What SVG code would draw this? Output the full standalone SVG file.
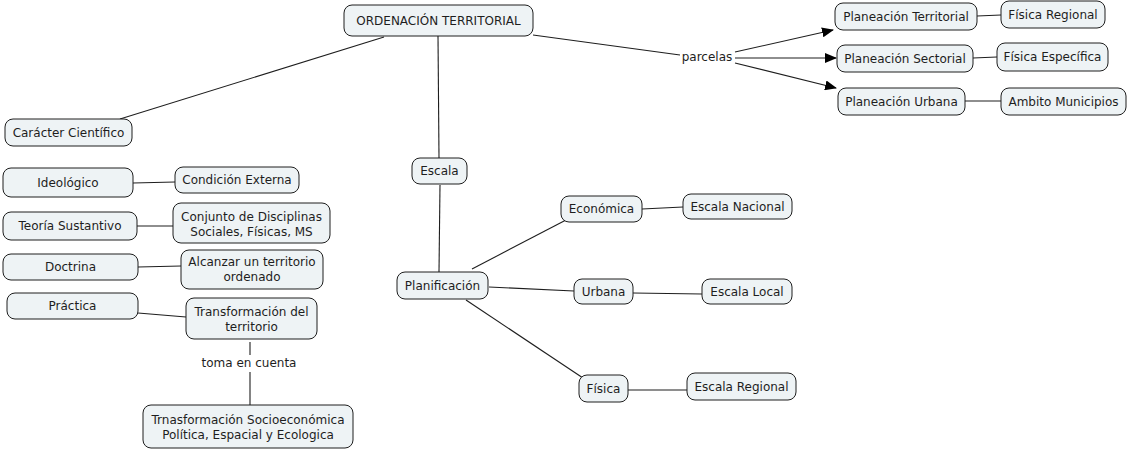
<svg xmlns="http://www.w3.org/2000/svg" width="1128" height="451" viewBox="0 0 1128 451">
<style>
.n rect{fill:#eef3f5;stroke:#1e1e1e;stroke-width:1}
text{font-family:"DejaVu Sans",Verdana,sans-serif;font-size:12px;fill:#1e1e1e;text-anchor:middle}
.c line{stroke:#1e1e1e;stroke-width:1.1}
</style>
<defs>
<marker id="ah" markerWidth="12" markerHeight="10" refX="11" refY="5" orient="auto" markerUnits="userSpaceOnUse">
<path d="M0,0 L12,5 L0,10 Z" fill="#000"/>
</marker>
</defs>
<rect width="1128" height="451" fill="#fff"/>
<g id="connectors" class="c">
<line x1="533" y1="35" x2="680" y2="55"/>
<line x1="735" y1="52" x2="833" y2="30" marker-end="url(#ah)"/>
<line x1="735" y1="58" x2="836" y2="58" marker-end="url(#ah)"/>
<line x1="735" y1="63" x2="836" y2="88" marker-end="url(#ah)"/>
<line x1="977" y1="16" x2="1001" y2="15"/>
<line x1="973" y1="58" x2="997" y2="57"/>
<line x1="965" y1="101" x2="1001" y2="101"/>
<line x1="384" y1="37" x2="120" y2="119"/>
<line x1="438" y1="36" x2="439" y2="158"/>
<line x1="440" y1="185" x2="439" y2="272"/>
<line x1="472" y1="269" x2="566" y2="220"/>
<line x1="489" y1="287" x2="574" y2="291"/>
<line x1="466" y1="300" x2="583" y2="378"/>
<line x1="642" y1="209" x2="683" y2="207"/>
<line x1="633" y1="293" x2="702" y2="294"/>
<line x1="628" y1="390" x2="687" y2="390"/>
<line x1="133" y1="183" x2="175" y2="182"/>
<line x1="137" y1="226" x2="173" y2="226"/>
<line x1="138" y1="267" x2="181" y2="266"/>
<line x1="138" y1="313" x2="186" y2="317"/>
<line x1="250" y1="342" x2="250" y2="355"/>
<line x1="250" y1="372" x2="250" y2="405"/>
<text x="707" y="61">parcelas</text>
<text x="249" y="367">toma en cuenta</text>
</g>
<g id="ordenacion" class="n"><rect x="344" y="5" width="189" height="31" rx="8"/><text x="438.5" y="25">ORDENACIÓN TERRITORIAL</text></g>
<g id="plan-territorial" class="n"><rect x="835" y="3" width="142" height="27" rx="8"/><text x="906" y="21">Planeación Territorial</text></g>
<g id="fisica-regional" class="n"><rect x="1001" y="1" width="104" height="27" rx="8"/><text x="1053" y="19">Física Regional</text></g>
<g id="plan-sectorial" class="n"><rect x="837" y="45" width="136" height="27" rx="8"/><text x="905" y="63">Planeación Sectorial</text></g>
<g id="fisica-especifica" class="n"><rect x="997" y="43" width="111" height="28" rx="8"/><text x="1052.5" y="61">Física Específica</text></g>
<g id="plan-urbana" class="n"><rect x="838" y="88" width="127" height="27" rx="8"/><text x="901.5" y="106">Planeación Urbana</text></g>
<g id="ambito" class="n"><rect x="1001" y="88" width="125" height="27" rx="8"/><text x="1063.5" y="106">Ambito Municipios</text></g>
<g id="caracter" class="n"><rect x="5" y="119" width="127" height="27" rx="8"/><text x="68.5" y="137">Carácter Científico</text></g>
<g id="escala" class="n"><rect x="412" y="158" width="55" height="26" rx="8"/><text x="439.5" y="175">Escala</text></g>
<g id="planificacion" class="n"><rect x="397" y="272" width="91" height="27" rx="8"/><text x="442.5" y="290">Planificación</text></g>
<g id="economica" class="n"><rect x="561" y="196" width="81" height="26" rx="8"/><text x="601.5" y="213">Económica</text></g>
<g id="escala-nacional" class="n"><rect x="683" y="194" width="109" height="25" rx="8"/><text x="737.5" y="211">Escala Nacional</text></g>
<g id="urbana" class="n"><rect x="574" y="279" width="59" height="25" rx="8"/><text x="603.5" y="296">Urbana</text></g>
<g id="escala-local" class="n"><rect x="702" y="279" width="90" height="25" rx="8"/><text x="747" y="296">Escala Local</text></g>
<g id="fisica" class="n"><rect x="579" y="375" width="49" height="27" rx="8"/><text x="603.5" y="393">Física</text></g>
<g id="escala-regional" class="n"><rect x="687" y="373" width="109" height="27" rx="8"/><text x="741.5" y="391">Escala Regional</text></g>
<g id="ideologico" class="n"><rect x="3" y="168" width="130" height="29" rx="8"/><text x="68" y="187">Ideológico</text></g>
<g id="condicion" class="n"><rect x="175" y="167" width="124" height="26" rx="8"/><text x="237" y="184">Condición Externa</text></g>
<g id="teoria" class="n"><rect x="3" y="212" width="134" height="28" rx="8"/><text x="70" y="230">Teoría Sustantivo</text></g>
<g id="conjunto" class="n"><rect x="173" y="203" width="157" height="40" rx="8"/><text x="251.5" y="221">Conjunto de Disciplinas</text><text x="251.5" y="236">Sociales, Físicas, MS</text></g>
<g id="doctrina" class="n"><rect x="3" y="254" width="135" height="26" rx="8"/><text x="70.5" y="271">Doctrina</text></g>
<g id="alcanzar" class="n"><rect x="181" y="250" width="142" height="39" rx="8"/><text x="252" y="266">Alcanzar un territorio</text><text x="252" y="281">ordenado</text></g>
<g id="practica" class="n"><rect x="7" y="293" width="131" height="26" rx="8"/><text x="72.5" y="310">Práctica</text></g>
<g id="transformacion" class="n"><rect x="186" y="298" width="131" height="41" rx="8"/><text x="251.5" y="316">Transformación del</text><text x="251.5" y="331">territorio</text></g>
<g id="trnasformacion" class="n"><rect x="143" y="405" width="210" height="43" rx="8"/><text x="248" y="424">Trnasformación Socioeconómica</text><text x="248" y="439">Política, Espacial y Ecologica</text></g>
</svg>
